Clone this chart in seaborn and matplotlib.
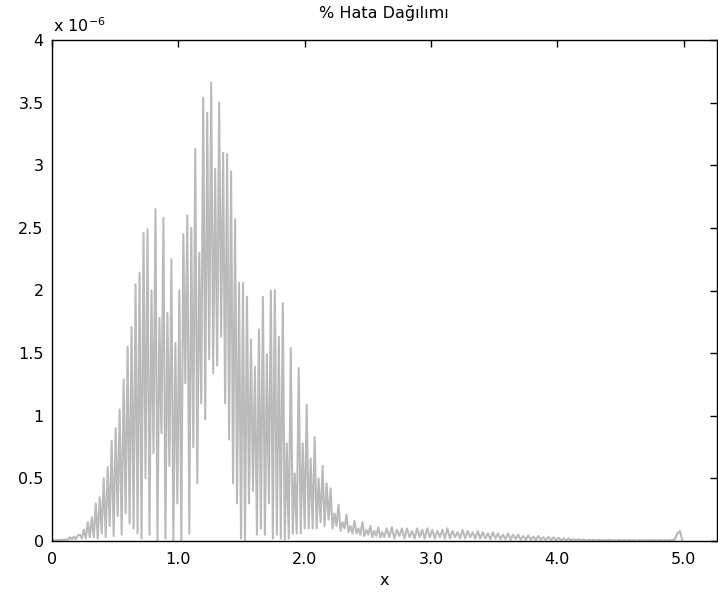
import numpy as np
import pandas as pd
import matplotlib
matplotlib.use("Agg")
import matplotlib.pyplot as plt
import seaborn as sns

# ---------------- data (values in units of 1e-6) ----------------
title = "% Hata Dağılımı"
x_label = "x"
x_ticks = [0, 1, 2, 3, 4, 5]
x_tick_labels = ["0", "1.0", "2.0", "3.0", "4.0", "5.0"]
y_ticks = [0, 0.5, 1, 1.5, 2, 2.5, 3, 3.5, 4]
y_tick_labels = ["0", "0.5", "1", "1.5", "2", "2.5", "3", "3.5", "4"]

# sampling of the oscillating curve
main_step = 0.01575
tail_start = 2.65
tail_step = 0.02

# leading near-zero part (x < 0.25)
err_start = [0.005, 0.008, 0.006, 0.009, 0.007, 0.011, 0.008, 0.013,
             0.010, 0.030, 0.012, 0.035, 0.015, 0.045, 0.050, 0.020]

# per oscillation cycle: high peak, trough, secondary peak, trough
err_peak = [0.09, 0.19, 0.35, 0.59, 0.90, 1.29, 1.71, 2.14, 2.49, 2.65,
            2.58, 2.25, 2.00, 2.60, 3.13, 3.54, 3.66, 3.50, 3.09, 2.57,
            2.06, 1.61, 1.69, 1.49, 2.00, 1.90, 1.54, 1.38, 1.09, 0.83,
            0.60, 0.42, 0.29, 0.21, 0.16, 0.15, 0.12, 0.11]
err_trough1 = [0.02, 0.03, 0.06, 0.12, 0.20, 0.22, 0.10, 0.02, 0.05, 0.00,
               0.02, 0.00, 0.00, 0.06, 0.46, 0.97, 1.34, 1.63, 0.81, 0.30,
               0.00, 0.40, 0.10, 0.30, 0.05, 0.01, 0.06, 0.06, 0.10, 0.10,
               0.12, 0.10, 0.08, 0.07, 0.06, 0.04, 0.03, 0.03]
err_second = [0.15, 0.30, 0.50, 0.80, 1.05, 1.55, 2.05, 2.46, 2.00, 1.78,
              1.82, 1.58, 2.45, 2.50, 2.30, 3.42, 2.97, 3.10, 2.95, 2.06,
              1.95, 1.39, 1.95, 2.00, 1.63, 0.78, 0.54, 0.78, 0.66, 0.50,
              0.46, 0.22, 0.15, 0.12, 0.10, 0.09, 0.08, 0.07]
err_trough2 = [0.03, 0.02, 0.03, 0.04, 0.05, 0.14, 0.06, 0.50, 0.70, 0.86,
               0.60, 0.30, 1.26, 0.75, 1.10, 1.45, 1.40, 1.10, 0.46, 0.02,
               0.30, 0.05, 0.05, 0.02, 0.02, 0.02, 0.06, 0.10, 0.10, 0.15,
               0.17, 0.12, 0.10, 0.06, 0.05, 0.05, 0.04, 0.03]

# small tail ripple (x >= 2.65): alternating highs and lows
tail_high = [0.10, 0.11, 0.09, 0.10, 0.10, 0.08, 0.10, 0.09, 0.10,
             0.09, 0.08, 0.09, 0.10, 0.08, 0.07, 0.09, 0.08, 0.07, 0.08,
             0.07, 0.06, 0.07, 0.06, 0.05, 0.06, 0.05, 0.05,
             0.04, 0.045, 0.035, 0.04, 0.03, 0.035, 0.03,
             0.025, 0.02, 0.02, 0.015, 0.015, 0.012, 0.01, 0.01,
             0.01, 0.008, 0.01, 0.008, 0.01, 0.008, 0.008, 0.007, 0.008,
             0.007, 0.008, 0.007, 0.008, 0.007, 0.008,
             0.015, 0.08]
tail_low = [0.03, 0.02, 0.04, 0.02, 0.03, 0.02, 0.03, 0.02, 0.03,
            0.02, 0.03, 0.02, 0.02, 0.03, 0.02, 0.02, 0.03, 0.02, 0.02,
            0.02, 0.015, 0.02, 0.015, 0.015, 0.01, 0.015, 0.01,
            0.01, 0.01, 0.008, 0.01, 0.008, 0.008, 0.006,
            0.006, 0.005, 0.005, 0.005, 0.004, 0.004, 0.004, 0.004,
            0.004, 0.003, 0.004, 0.003, 0.004, 0.003, 0.004, 0.003, 0.004,
            0.003, 0.004, 0.003, 0.004, 0.003, 0.004,
            0.06, 0.0]

# ---------------- assemble ----------------
main_vals = err_start + [v for q in zip(err_peak, err_trough1, err_second, err_trough2) for v in q]
main_x = np.arange(len(main_vals)) * main_step
tail_vals = [v for p in zip(tail_high, tail_low) for v in p]
tail_x = tail_start + np.arange(len(tail_vals)) * tail_step

df = pd.DataFrame({"x": np.concatenate([main_x, tail_x]),
                   "err": np.array(main_vals + tail_vals)})

# ---------------- plot ----------------
sns.set_theme(style="white")
plt.rcParams["font.family"] = ["DejaVu Sans"]

W, H = 718, 593
fig = plt.figure(figsize=(W / 100, H / 100), dpi=100)
fig.patch.set_facecolor("white")
ax = fig.add_axes([52 / W, 1 - 541 / H, (716.5 - 52) / W, (541 - 40) / H])

sns.lineplot(data=df, x="x", y="err", ax=ax, color="#bababa", linewidth=1.5,
             estimator=None, errorbar=None, sort=False)

ax.set_xlim(0, 5.26)
ax.set_ylim(0, 4)
ax.set_xticks(x_ticks)
ax.set_xticklabels(x_tick_labels)
ax.set_yticks(y_ticks)
ax.set_yticklabels(y_tick_labels)
ax.tick_params(direction="in", length=5, width=1, top=True, right=True,
               labelsize=11.5, colors="black")
ax.tick_params(axis="x", pad=8)
ax.tick_params(axis="y", pad=6)
for s in ax.spines.values():
    s.set_visible(True)
    s.set_color("black")
    s.set_linewidth(1.0)
ax.set_facecolor("white")
ax.grid(False)

ax.set_title(title, fontsize=11.5, color="black", pad=15.5)
ax.set_xlabel(x_label, fontsize=11.5, color="black", labelpad=4)
ax.set_ylabel("")

fig.text(53 / W, 1 - 32 / H, r"x 10$^{-6}$", fontsize=11.5, color="black",
         ha="left", va="baseline")

fig.savefig("out.png", dpi=100, facecolor="white")
